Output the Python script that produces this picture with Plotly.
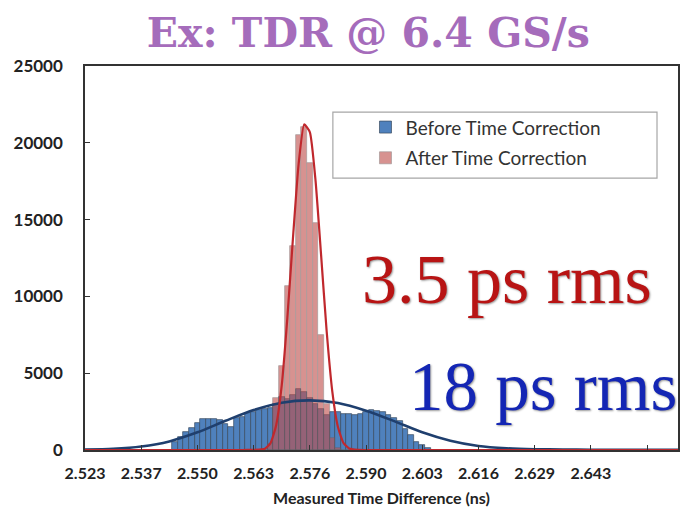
import plotly.graph_objects as go

# ---- data ----
tick_labels = ["2.523", "2.537", "2.550", "2.563", "2.576",
               "2.590", "2.603", "2.616", "2.629", "2.643"]
tick_index = [0, 10, 20, 30, 40, 50, 60, 70, 80, 90, 100]   # bin index of each tick

# histogram bins are indexed (10 bins per labelled interval)
blue_bins = list(range(16, 62))
blue_counts = [500, 850, 1150, 1450, 1750, 2000, 2050, 2000, 1950, 1700,
               1500, 2100, 2150, 2400, 2450, 2600, 2700, 2750, 3000, 3450,
               3300, 3600, 4000, 3800, 3400, 3000, 2700, 2300, 2450, 2450,
               2350, 2350, 2300, 2350, 2500, 2600, 2550, 2450, 2300, 2100,
               1900, 1400, 1000, 550, 350, 150]

red_bins = list(range(33, 46))
red_counts = [400, 3400, 5500, 10700, 13300, 20500, 21000, 18700, 14800,
              7500, 3000, 800, 100]

blue_fit_x = [0, 5, 10, 15, 20, 25, 30, 35, 40, 45, 50, 55, 60, 65, 70,
              75, 80, 85, 90, 95, 100, 105.5]
blue_fit_y = [30, 80, 230, 560, 1150, 1900, 2600, 3080, 3230, 3060, 2560,
              1880, 1150, 600, 260, 110, 50, 30, 20, 15, 10, 10]

red_fit_x = [0, 10, 20, 28, 30, 31, 32, 33, 34, 35, 36, 37, 38, 39, 40, 41,
             42, 43, 44, 45, 46, 47, 48, 50, 60, 80, 105.5]
red_fit_y = [0, 0, 0, 0, 5, 20, 80, 450, 1600, 4200, 8600, 13800, 18600,
             21200, 20700, 17600, 12700, 7700, 3800, 1500, 450, 100, 20, 0,
             0, 0, 0]

y_ticks = [0, 5000, 10000, 15000, 20000, 25000]
y_tick_labels = ["0", "5000", "10000", "15000", "20000", "25000"]

fig = go.Figure()

fig.add_trace(go.Bar(
    x=blue_bins, y=blue_counts, width=1.0, name="Before Time Correction",
    marker=dict(color="#4F81BD", line=dict(color="#3A4A5E", width=0.7)),
    legendgroup="a",
))
fig.add_trace(go.Bar(
    x=red_bins, y=red_counts, width=1.0, name="After Time Correction",
    marker=dict(color="#C0504D", line=dict(color="#6E5A5A", width=0.7)),
    opacity=0.62, legendgroup="b",
))
fig.add_trace(go.Scatter(
    x=blue_fit_x, y=blue_fit_y, mode="lines", showlegend=False,
    line=dict(color="#1F3F6E", width=2.6, shape="spline", smoothing=0.8),
))
fig.add_trace(go.Scatter(
    x=red_fit_x, y=red_fit_y, mode="lines", showlegend=False,
    line=dict(color="#C0282D", width=2.2, shape="spline", smoothing=0.5),
))

# legend frame
fig.add_shape(type="rect", xref="paper", yref="paper",
              x0=0.418, x1=0.9646, y0=0.708, y1=0.880,
              line=dict(color="#A6A6A6", width=1.2), fillcolor="white",
              layer="below")

fig.add_annotation(text="3.5 ps rms", x=0.711, y=0.445, xref="paper",
                   yref="paper", showarrow=False, xanchor="center",
                   yanchor="middle",
                   font=dict(family="Liberation Serif", size=70,
                             color="#B81414", shadow="1px 1px 2px #999"))
fig.add_annotation(text="18 ps rms", x=0.772, y=0.165, xref="paper",
                   yref="paper", showarrow=False, xanchor="center",
                   yanchor="middle",
                   font=dict(family="Liberation Serif", size=69,
                             color="#1426B4", shadow="1px 1px 2px #999"))

# page body adds an 8px offset, so the figure is 8px smaller
fig.update_layout(
    width=685, height=511,
    margin=dict(l=77, r=15, t=58, b=69),
    paper_bgcolor="white", plot_bgcolor="white",
    barmode="overlay", bargap=0,
    title=dict(text="Ex: TDR @ 6.4 GS/s", x=0.526, xanchor="center",
               y=0.951, yanchor="middle",
               font=dict(family="DejaVu Serif", size=41,
                         color="#A56CBB", weight="bold")),
    legend=dict(x=0.473, y=0.89, xanchor="left", yanchor="top",
                bgcolor="rgba(0,0,0,0)", borderwidth=0,
                tracegroupgap=3,
                font=dict(family="Lato", size=19, color="#333333")),
    showlegend=True,
)

fig.update_xaxes(
    range=[0, 105.5], tickvals=tick_index, ticktext=tick_labels + [""],
    ticks="inside", ticklen=5, tickcolor="#333333", automargin=False,
    showline=True, linecolor="#333333", linewidth=1.5, mirror=True,
    showgrid=False, zeroline=False, ticklabelstandoff=8,
    tickfont=dict(family="Lato", size=16, color="#222222", weight="bold"),
    title=dict(text="Measured Time Difference (ns)", standoff=12,
               font=dict(family="Lato", size=16, color="#222222",
                         weight="bold")),
)
fig.update_yaxes(
    range=[0, 25000], tickvals=y_ticks, ticktext=y_tick_labels,
    ticks="inside", ticklen=5, tickcolor="#333333", automargin=False,
    showline=True, linecolor="#333333", linewidth=1.5, mirror=True,
    showgrid=False, zeroline=False, ticklabelstandoff=17,
    tickfont=dict(family="Lato", size=17, color="#222222", weight="bold"),
)

fig.write_html("out.html")
